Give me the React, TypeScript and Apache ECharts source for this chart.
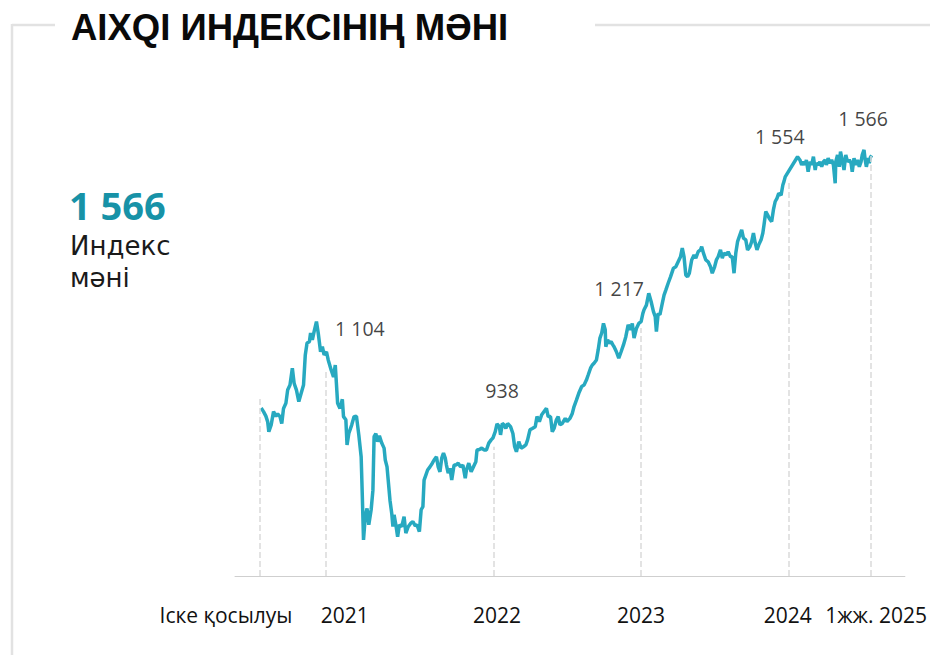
import React, { useEffect, useRef } from "react";
import * as echarts from "echarts";

// Trading-session index since launch (x) and index value (y)
const sessions = [
  2, 6, 10, 13, 15, 19, 23, 27, 30, 34, 37, 40, 44, 47, 51, 55, 58, 62, 66, 70,
  74, 77, 80, 84, 86, 89, 92, 96, 99, 103, 106, 109, 113, 116, 121, 125, 128, 132, 136, 140,
  142, 146, 148, 151, 156, 160, 164, 168, 172, 174, 176, 179, 182, 185, 189, 192, 194, 197, 200, 203,
  207, 211, 213, 216, 218, 221, 224, 226, 228, 231, 234, 237, 241, 245, 248, 252, 256, 260, 264, 267,
  271, 274, 277, 279, 282, 285, 289, 293, 296, 300, 303, 306, 309, 312, 315, 317, 320, 323, 326, 330,
  333, 337, 341, 345, 349, 351, 355, 359, 363, 367, 369, 373, 377, 381, 385, 389, 393, 396, 400, 403,
  407, 409, 412, 415, 418, 421, 426, 430, 433, 436, 440, 444, 448, 452, 455, 459, 463, 468, 471, 475,
  479, 483, 487, 490, 494, 497, 500, 504, 507, 510, 514, 519, 522, 527, 531, 534, 538, 542, 547, 551,
  555, 558, 562, 565, 568, 572, 575, 578, 581, 584, 587, 588, 591, 594, 597, 600, 602, 606, 610, 614,
  618, 622, 626, 630, 633, 636, 640, 644, 648, 651, 653, 657, 661, 665, 669, 672, 674, 677, 680, 684,
  687, 690, 694, 698, 703, 707, 711, 715, 718, 721, 724, 727, 730, 734, 738, 741, 745, 749, 751, 754,
  758, 762, 766, 769, 773, 776, 779, 783, 786, 789, 793, 796, 800, 803, 806, 809, 812, 816, 819, 822,
  826, 829, 833, 836, 839, 842, 845, 848, 852, 855, 857, 860, 863, 866, 870, 873, 876, 879, 882, 886,
  889, 891, 893, 914, 918, 921, 924, 927, 929, 932, 935, 938, 941, 944, 946, 949, 952, 955, 958, 961,
  963, 966, 969, 972, 975, 978, 979, 982, 985, 987, 990, 993, 996, 999, 1002, 1005, 1007, 1010, 1013, 1016,
  1019, 1022, 1024, 1027, 1029, 1031, 1034, 1036, 1038, 1040,
];

const indexValues = [
  1013, 1005, 995, 983, 961, 976, 1005, 995, 1000, 994, 979, 1012, 1023, 1052, 1063, 1100, 1067, 1052, 1027, 1045,
  1063, 1129, 1155, 1158, 1177, 1162, 1180, 1202, 1177, 1136, 1147, 1129, 1136, 1118, 1096, 1081, 1107, 1023, 1012, 1032,
  994, 987, 932, 957, 976, 994, 995, 954, 906, 819, 724, 775, 793, 757, 790, 833, 950, 957, 939, 952,
  936, 925, 899, 884, 855, 811, 782, 753, 779, 757, 731, 757, 753, 775, 739, 753, 760, 764, 755, 757,
  742, 790, 797, 855, 866, 877, 884, 892, 899, 906, 884, 873, 903, 914, 903, 888, 870, 881, 855, 888,
  888, 892, 884, 888, 859, 877, 892, 873, 884, 895, 921, 922, 925, 921, 921, 936, 943, 947, 961, 978,
  972, 954, 979, 976, 968, 979, 972, 957, 928, 917, 939, 925, 928, 932, 943, 965, 968, 972, 994, 983,
  998, 1005, 1012, 994, 994, 961, 968, 987, 994, 976, 979, 990, 983, 990, 1001, 1016, 1030, 1045, 1060, 1063,
  1074, 1085, 1100, 1107, 1111, 1118, 1140, 1166, 1177, 1198, 1184, 1147, 1162, 1155, 1158, 1151, 1147, 1136, 1122, 1136,
  1151, 1169, 1195, 1184, 1198, 1166, 1187, 1198, 1202, 1220, 1228, 1238, 1264, 1246, 1224, 1213, 1180, 1220, 1217, 1242,
  1260, 1271, 1286, 1300, 1319, 1322, 1333, 1344, 1363, 1344, 1304, 1300, 1308, 1337, 1348, 1341, 1355, 1359, 1366, 1352,
  1337, 1333, 1322, 1308, 1322, 1337, 1344, 1359, 1341, 1352, 1348, 1355, 1344, 1344, 1308, 1352, 1377, 1392, 1403, 1385,
  1381, 1359, 1366, 1377, 1396, 1374, 1359, 1370, 1381, 1396, 1414, 1443, 1436, 1428, 1421, 1447, 1465, 1472, 1483, 1479,
  1501, 1509, 1519, 1563, 1556, 1545, 1552, 1545, 1556, 1530, 1552, 1545, 1563, 1534, 1549, 1545, 1552, 1541, 1552, 1556,
  1545, 1560, 1549, 1556, 1545, 1505, 1552, 1567, 1541, 1574, 1556, 1534, 1567, 1552, 1556, 1549, 1530, 1560, 1545, 1556,
  1541, 1552, 1567, 1578, 1556, 1541, 1560, 1549, 1562, 1566,
];

// Milestones: launch, year ends, half-year 2025
const eventSessions = [0, 112, 398, 648, 899, 1039];
const eventTops = [1035, 1092, 928, 1188, 1512, 1566];
const eventAxisLabels = ["Іске қосылуы", "2021", "2022", "2023", "2024", "1жж. 2025"];
const eventAnnotations = ["", "1 104", "938", "1 217", "1 554", "1 566"];

const titleText = "AIXQI ИНДЕКСІНІҢ МӘНІ";
const kpiCaption = ["Индекс", "мәні"];

// styling only
const annotationOffsets = [[0, 0], [34, -43], [8, -56], [-22, -40], [-9, -44], [-8, -37]];
const axisLabelShift = [-34, 19, 3, 0, -1, 5];

const Y_MIN = 645;
const Y_MAX = 1650;

const fmt = (n: number) => String(n).replace(/\B(?=(\d{3})+(?!\d))/g, " ");

export default function App() {
  const ref = useRef<HTMLDivElement>(null);

  useEffect(() => {
    const chart = echarts.init(ref.current!, null, { renderer: "svg" });
    const lineData = sessions.map((s, i) => [s, indexValues[i]]);
    const last = indexValues[indexValues.length - 1];

    const rich: Record<string, any> = {};
    axisLabelShift.forEach((d, i) => {
      rich["r" + i] = {
        fontSize: 21,
        fontFamily: "Open Sans",
        color: "#111111",
        padding: d >= 0 ? [0, 0, 0, 2 * d] : [0, -2 * d, 0, 0],
      };
    });

    chart.setOption({
      animation: false,
      backgroundColor: "#ffffff",
      grid: { left: 235, right: 25, top: 117, bottom: 79 },
      xAxis: {
        type: "value",
        min: -42.5,
        max: 1096.5,
        splitLine: { show: false },
        axisTick: { show: false },
        axisLine: { show: true, lineStyle: { color: "#cfcfcf", width: 1 } },
        axisLabel: {
          customValues: eventSessions,
          hideOverlap: false,
          margin: 28,
          fontSize: 21,
          fontFamily: "Open Sans",
          color: "#111111",
          formatter: (v: number) => {
            const i = eventSessions.indexOf(v);
            return i < 0 ? "" : "{r" + i + "|" + eventAxisLabels[i] + "}";
          },
          rich,
        },
      },
      yAxis: {
        type: "value",
        min: Y_MIN,
        max: Y_MAX,
        show: false,
        splitLine: { show: false },
      },
      series: [
        {
          type: "scatter",
          z: 1,
          silent: true,
          symbolSize: 0,
          data: eventSessions.map((s, i) => ({
            value: [s, eventTops[i]],
            label: { offset: annotationOffsets[i] },
          })),
          label: {
            show: true,
            position: "inside",
            align: "center",
            verticalAlign: "middle",
            fontSize: 19.5,
            fontFamily: "Open Sans",
            color: "#111111",
            formatter: (p: any) => eventAnnotations[p.dataIndex],
          },
          markLine: {
            silent: true,
            symbol: ["none", "none"],
            label: { show: false },
            lineStyle: { type: "dashed", color: "#dadada", width: 1.5 },
            data: eventSessions.map((s, i) => [
              { coord: [s, Y_MIN] },
              { coord: [s, eventTops[i]] },
            ]),
          },
        },
        {
          type: "line",
          z: 3,
          silent: true,
          showSymbol: false,
          symbol: "none",
          lineStyle: { color: "#27a9c0", width: 3.5 },
          data: lineData,
        },
      ],
      graphic: [
        { type: "line", shape: { x1: 12, y1: 25, x2: 55, y2: 25 }, style: { stroke: "#e2e2e2", lineWidth: 2.5 } },
        { type: "line", shape: { x1: 595, y1: 25, x2: 930, y2: 25 }, style: { stroke: "#e2e2e2", lineWidth: 2.5 } },
        { type: "line", shape: { x1: 12, y1: 24, x2: 12, y2: 655 }, style: { stroke: "#e2e2e2", lineWidth: 2.5 } },
        {
          type: "text",
          x: 71,
          y: 27,
          style: {
            text: titleText,
            fontSize: 36.5,
            fontWeight: "bold",
            fontFamily: "Liberation Sans",
            fill: "#0a0a0a",
            verticalAlign: "middle",
            align: "left",
          },
        },
        {
          type: "text",
          x: 69,
          y: 205,
          style: {
            text: fmt(last),
            fontSize: 38,
            fontWeight: "bold",
            fontFamily: "Open Sans",
            fill: "#1792a7",
            verticalAlign: "middle",
            align: "left",
          },
        },
        {
          type: "text",
          x: 70,
          y: 246,
          style: {
            text: kpiCaption[0],
            fontSize: 26,
            fontFamily: "DejaVu Sans",
            fill: "#1a1a1a",
            verticalAlign: "middle",
            align: "left",
          },
        },
        {
          type: "text",
          x: 70,
          y: 278,
          style: {
            text: kpiCaption[1],
            fontSize: 26,
            fontFamily: "DejaVu Sans",
            fill: "#1a1a1a",
            verticalAlign: "middle",
            align: "left",
          },
        },
      ],
    });

    return () => chart.dispose();
  }, []);

  return (
    <div
      ref={ref}
      style={{ position: "fixed", left: 0, top: 0, width: 930, height: 655 }}
    />
  );
}
